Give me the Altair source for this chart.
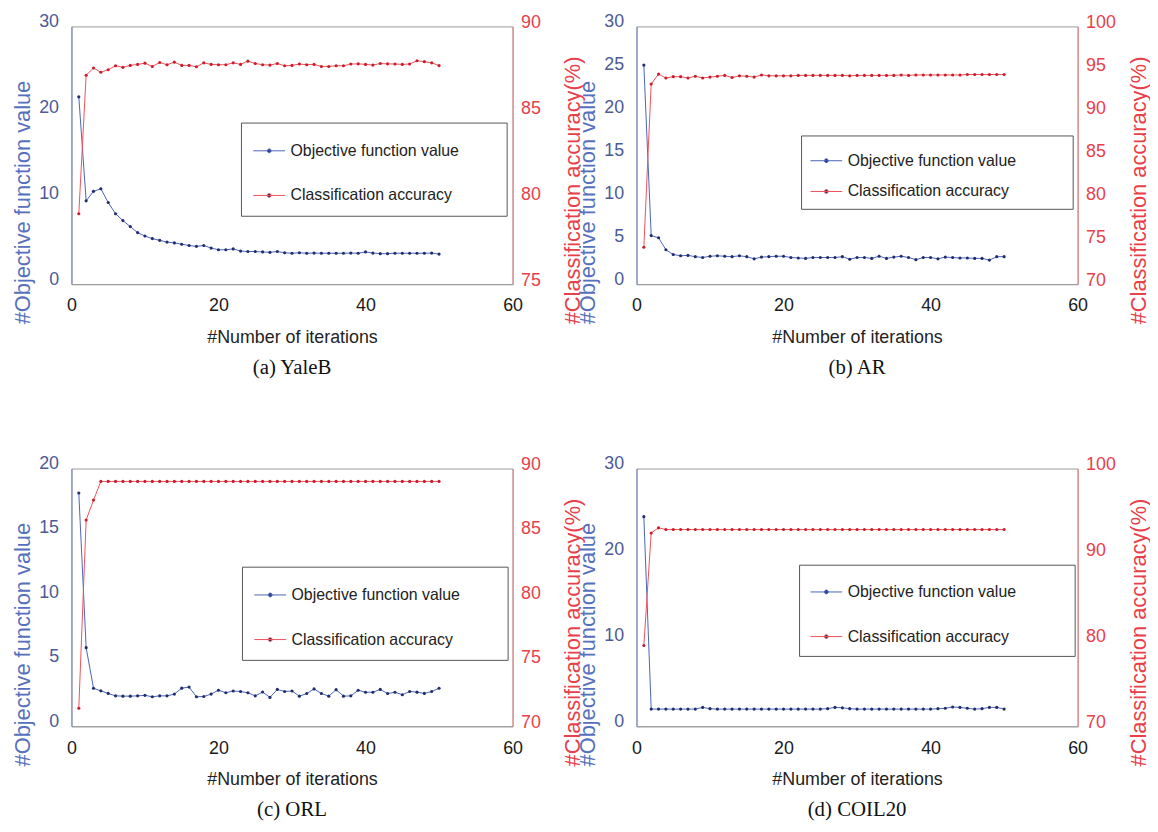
import altair as alt
import pandas as pd

# ---------------- data ----------------
iterations = list(range(1, 51))

yaleb_obj = [21.8, 9.7, 10.8, 11.1, 9.5, 8.2, 7.4, 6.7, 6.0, 5.6,
             5.3, 5.1, 4.9, 4.8, 4.65, 4.5, 4.4, 4.5, 4.2, 4.0,
             4.0, 4.1, 3.85, 3.8, 3.8, 3.75, 3.7, 3.8, 3.65, 3.6,
             3.65, 3.6, 3.62, 3.6, 3.6, 3.6, 3.6, 3.62, 3.6, 3.75,
             3.62, 3.55, 3.55, 3.6, 3.6, 3.6, 3.6, 3.6, 3.62, 3.5]
yaleb_acc = [79.1, 87.16, 87.58, 87.33, 87.48, 87.71, 87.62, 87.73, 87.79, 87.86,
             87.67, 87.9, 87.77, 87.92, 87.73, 87.73, 87.65, 87.88, 87.79, 87.77,
             87.77, 87.88, 87.79, 87.98, 87.84, 87.77, 87.75, 87.84, 87.71, 87.73,
             87.81, 87.77, 87.79, 87.67, 87.67, 87.71, 87.71, 87.81, 87.82, 87.79,
             87.75, 87.84, 87.82, 87.81, 87.79, 87.81, 88.0, 87.95, 87.88, 87.72]

ar_obj = [25.5, 5.65, 5.4, 4.0, 3.45, 3.3, 3.35, 3.2, 3.1, 3.25,
          3.3, 3.25, 3.2, 3.3, 3.2, 2.95, 3.15, 3.2, 3.25, 3.25,
          3.1, 3.05, 3.0, 3.1, 3.1, 3.1, 3.1, 3.2, 2.9, 3.1,
          3.1, 3.0, 3.25, 3.0, 3.15, 3.25, 3.1, 2.85, 3.1, 3.1,
          2.95, 3.15, 3.1, 3.05, 3.05, 3.0, 3.0, 2.8, 3.2, 3.2]
ar_acc = [74.3, 93.3, 94.45, 94.0, 94.15, 94.15, 94.0, 94.2, 94.0, 94.1,
          94.2, 94.3, 94.05, 94.25, 94.2, 94.1, 94.35, 94.25, 94.25, 94.25,
          94.25, 94.3, 94.3, 94.3, 94.3, 94.3, 94.3, 94.3, 94.25, 94.3,
          94.3, 94.3, 94.3, 94.3, 94.3, 94.35, 94.3, 94.35, 94.35, 94.35,
          94.35, 94.35, 94.35, 94.35, 94.4, 94.4, 94.4, 94.4, 94.4, 94.4]

orl_obj = [18.1, 6.1, 2.95, 2.75, 2.55, 2.36, 2.34, 2.34, 2.36, 2.4,
           2.29, 2.36, 2.36, 2.5, 2.96, 3.04, 2.29, 2.31, 2.5, 2.8,
           2.6, 2.74, 2.7, 2.6, 2.36, 2.66, 2.24, 2.86, 2.7, 2.74,
           2.34, 2.54, 2.9, 2.54, 2.34, 2.84, 2.34, 2.36, 2.8, 2.64,
           2.64, 2.86, 2.54, 2.64, 2.45, 2.7, 2.65, 2.55, 2.7, 2.95]
orl_acc = [71.4, 86.0, 87.55, 89.0, 89.0, 89.0, 89.0, 89.0, 89.0, 89.0,
           89.0, 89.0, 89.0, 89.0, 89.0, 89.0, 89.0, 89.0, 89.0, 89.0,
           89.0, 89.0, 89.0, 89.0, 89.0, 89.0, 89.0, 89.0, 89.0, 89.0,
           89.0, 89.0, 89.0, 89.0, 89.0, 89.0, 89.0, 89.0, 89.0, 89.0,
           89.0, 89.0, 89.0, 89.0, 89.0, 89.0, 89.0, 89.0, 89.0, 89.0]

coil_obj = [24.4, 2.0, 2.0, 2.0, 2.0, 2.0, 2.0, 2.0, 2.2, 2.05,
            2.0, 2.0, 2.0, 2.0, 2.0, 2.0, 2.0, 2.0, 2.0, 2.0,
            2.0, 2.0, 2.0, 2.0, 2.0, 2.05, 2.2, 2.15, 2.05, 2.0,
            2.0, 2.0, 2.0, 2.0, 2.0, 2.0, 2.0, 2.0, 2.0, 2.0,
            2.05, 2.1, 2.25, 2.2, 2.1, 2.0, 2.05, 2.2, 2.2, 2.0]
coil_acc = [79.4, 92.5, 93.1, 92.9, 92.9, 92.9, 92.9, 92.9, 92.9, 92.9,
            92.9, 92.9, 92.9, 92.9, 92.9, 92.9, 92.9, 92.9, 92.9, 92.9,
            92.9, 92.9, 92.9, 92.9, 92.9, 92.9, 92.9, 92.9, 92.9, 92.9,
            92.9, 92.9, 92.9, 92.9, 92.9, 92.9, 92.9, 92.9, 92.9, 92.9,
            92.9, 92.9, 92.9, 92.9, 92.9, 92.9, 92.9, 92.9, 92.9, 92.9]

x_ticks = [0, 20, 40, 60]
series_names = ["Objective function value", "Classification accuracy"]

# ---------------- styling ----------------
W, H = 445, 260
SANS = "Liberation Sans, Arial"
SERIF = "Liberation Serif, Times New Roman"
BLUE_LINE, BLUE_DOT = "#4a64b8", "#1f2c6e"
RED_LINE, RED_DOT = "#f0505a", "#c81e2a"
BLUE_TXT, BLUE_TITLE = "#4c5a96", "#5570bd"
RED_TXT = "#e8404a"
LEGEND_SYMBOL = "M-1,0H1M0.12,0A0.12,0.12,0,1,1,-0.12,0A0.12,0.12,0,1,1,0.12,0"
BLANK = "\u2800"  # blank glyph used only to widen the legend box


def panel(obj, acc, obj_dom, obj_ticks, acc_dom, acc_ticks, caption,
          lx, ly, lpad, lrow, nblank):
    df = pd.DataFrame({
        "iter": iterations + iterations,
        "value": obj + acc,
        "series": [series_names[0]] * len(obj) + [series_names[1]] * len(acc),
    })
    base = alt.Chart(df)
    x = alt.X("iter:Q", scale=alt.Scale(domain=[0, 60], nice=False),
              axis=alt.Axis(values=x_ticks, grid=False, ticks=False, tickSize=0,
                            labelFont=SANS, labelFontSize=18, labelColor="#1a1a1a",
                            labelPadding=13, labelFlush=False,
                            domainColor="#9a9a9a",
                            title="#Number of iterations", titleFont=SANS,
                            titleFontSize=18, titleFontWeight="normal",
                            titleColor="#222222", titlePadding=14))
    legend = alt.Legend(orient="none", legendX=lx, legendY=ly, title=None,
                        symbolType=LEGEND_SYMBOL, symbolSize=1024, symbolStrokeWidth=1,
                        labelFont=SANS, labelFontSize=16, labelColor="#222222",
                        labelOffset=5, labelLimit=600, rowPadding=lrow,
                        padding=lpad, strokeColor="#555555", fillColor="white",
                        labelExpr="datum.label + '" + BLANK * nblank + "'")
    stroke = alt.Stroke("series:N", legend=legend,
                        scale=alt.Scale(domain=series_names, range=[BLUE_LINE, RED_LINE]))

    obj_line = base.transform_filter(alt.datum.series == series_names[0]).mark_line(
        strokeWidth=1,
        point=alt.OverlayMarkDef(filled=True, fill=BLUE_DOT, size=10, strokeWidth=0),
    ).encode(
        x=x,
        y=alt.Y("value:Q", scale=alt.Scale(domain=obj_dom, nice=False),
                axis=alt.Axis(orient="left", values=obj_ticks, grid=False, ticks=False,
                              tickSize=0, labelFont=SANS, labelFontSize=18,
                              labelColor=BLUE_TXT, labelPadding=13, labelOffset=-5,
                              labelFlush=False, domainColor="#7384c4",
                              title="#Objective function value", titleFont=SANS,
                              titleFontSize=22, titleFontWeight="normal",
                              titleColor=BLUE_TITLE, titleAngle=270, titleAlign="left",
                              titleBaseline="middle", titleX=-49, titleY=H + 40)),
        stroke=stroke,
    )
    acc_line = base.transform_filter(alt.datum.series == series_names[1]).mark_line(
        strokeWidth=1,
        point=alt.OverlayMarkDef(filled=True, fill=RED_DOT, size=10, strokeWidth=0),
    ).encode(
        x=x,
        y=alt.Y("value:Q", scale=alt.Scale(domain=acc_dom, nice=False),
                axis=alt.Axis(orient="right", values=acc_ticks, grid=False, ticks=False,
                              tickSize=0, labelFont=SANS, labelFontSize=18,
                              labelColor=RED_TXT, labelPadding=8, labelOffset=-4,
                              labelFlush=False, domainColor="#f07a80",
                              title="#Classification accuracy(%)", titleFont=SANS,
                              titleFontSize=22, titleFontWeight="normal",
                              titleColor=RED_TXT, titleAngle=270, titleAlign="left",
                              titleBaseline="middle", titleX=61, titleY=H + 40)),
        stroke=stroke,
    )
    return alt.layer(obj_line, acc_line).resolve_scale(y="independent").properties(
        width=W, height=H,
        title=alt.TitleParams(caption, orient="bottom", frame="group", font=SERIF,
                              fontSize=21, fontWeight="normal", color="#111111",
                              offset=11),
    )


pa = panel(yaleb_obj, yaleb_acc, [0, 30], [0, 10, 20, 30], [75, 90], [75, 80, 85, 90],
           "(a) YaleB", 171, 97, 12, 20, 3)
pb = panel(ar_obj, ar_acc, [0, 30], [0, 5, 10, 15, 20, 25, 30], [70, 100],
           [70, 75, 80, 85, 90, 95, 100], "(b) AR", 166, 110, 9, 6, 4)
pc = panel(orl_obj, orl_acc, [0, 20], [0, 5, 10, 15, 20], [70, 90], [70, 75, 80, 85, 90],
           "(c) ORL", 172, 99, 12, 20, 3)
pd_ = panel(coil_obj, coil_acc, [0, 30], [0, 10, 20, 30], [70, 100], [70, 80, 90, 100],
            "(d) COIL20", 164, 97, 11, 20, 4)

chart = alt.concat(
    pa, pb, pc, pd_, columns=2, spacing={"row": 186, "column": 125}, bounds="flush"
).resolve_scale(stroke="independent").configure_view(
    stroke="#9a9a9a", strokeWidth=1
).properties(
    padding={"left": 3, "top": 0, "right": 0, "bottom": 0}, background="white"
)

chart.save("out.html", embed_options={"renderer": "svg", "actions": False})
